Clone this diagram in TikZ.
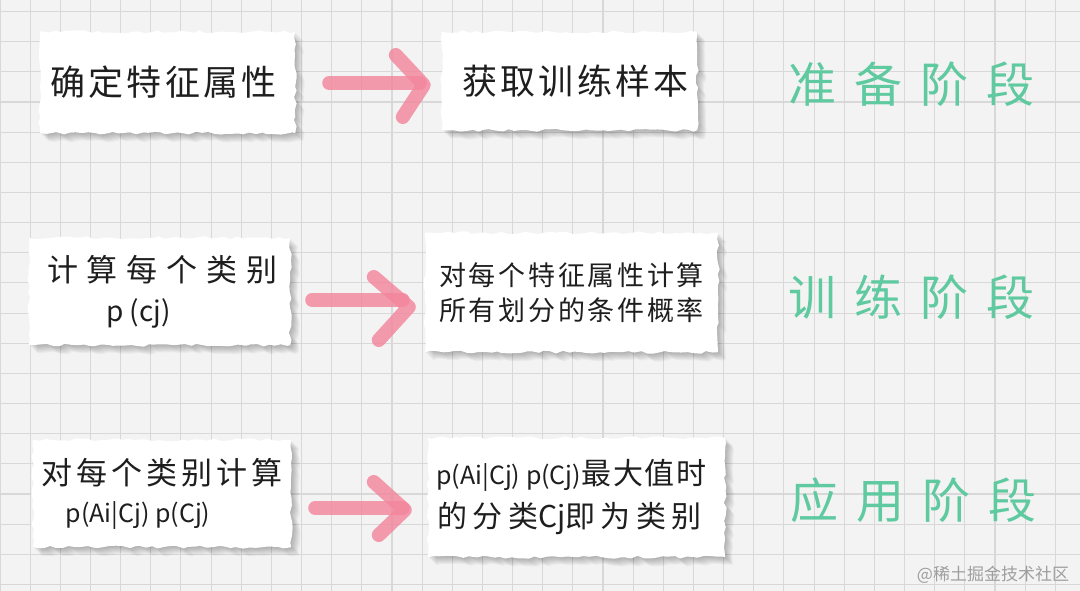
\documentclass[tikz,border=0pt]{standalone}
\usepackage{fontspec}
\setmainfont{Noto Sans CJK SC}
\usetikzlibrary{decorations.pathmorphing}
\definecolor{bgc}{RGB}{243,243,243}
\definecolor{gridc}{RGB}{216,216,216}
\definecolor{pinkc}{RGB}{244,134,157}
\definecolor{greenc}{RGB}{95,201,160}
\definecolor{markc}{RGB}{158,158,158}
\definecolor{inkc}{RGB}{30,30,30}
\pgfdeclarelayer{gridlayer}
\pgfdeclarelayer{paperlayer}
\pgfsetlayers{gridlayer,paperlayer,main}
\newcommand\tornpaper[2]{%
  \begin{pgfonlayer}{paperlayer}
  \foreach \k in {1,...,8}{%
    \pgfmathsetseed{#2}%
    \fill[black,opacity=0.035,torn]
      ([shift={(\k*1.0,\k*1.0)}]#1.north west) rectangle ([shift={(\k*1.0,\k*1.0)}]#1.south east);
  }
  \pgfmathsetseed{#2}%
  \fill[white,torn] (#1.north west) rectangle (#1.south east);
  \end{pgfonlayer}%
}
\tikzset{
  torn/.style={decorate,decoration={random steps,segment length=6pt,amplitude=1.5pt}},
  paperbox/.style={inner sep=0pt, align=center, text=inkc},
  stagelabel/.style={inner sep=0pt, text=greenc, font=\fontsize{48}{50}\selectfont\addfontfeature{LetterSpace=37.5}},
  pinkarrow/.style={draw=pinkc, line width=14, line cap=round, line join=round, opacity=0.82},
}
\begin{document}
\begin{tikzpicture}[x=1pt,y=-1pt]
\useasboundingbox (0,0) rectangle (1080,591);
\begin{pgfonlayer}{gridlayer}
  \fill[bgc] (0,0) rectangle (1080,591);
  \foreach \i in {0,...,35} \draw[gridc,line width=1.1] (\i*30.15,0) -- (\i*30.15,591);
  \foreach \j in {0,...,19} \draw[gridc,line width=1.1] (0,11.55+\j*30.15) -- (1080,11.55+\j*30.15);
\end{pgfonlayer}

% row 1
\node[paperbox, minimum width=255, minimum height=101,
      font=\fontsize{35}{40}\selectfont\addfontfeature{LetterSpace=9}] (A) at (167.5,82.5) {确定特征属性\hspace*{8pt}};
\node[paperbox, minimum width=255, minimum height=98,
      font=\fontsize{35}{40}\selectfont\addfontfeature{LetterSpace=9}] (B) at (569.5,81) {\hspace*{12pt}获取训练样本};
\node[stagelabel] (S1) at (911,84) {准备阶段};

% row 2
\node[paperbox, minimum width=261, minimum height=107,
      font=\fontsize{31}{40}\selectfont] (C) at (159.5,291.5)
  {\hspace*{6pt}{\addfontfeature{LetterSpace=29}计算每个类别}\\{\fontsize{28}{40}\selectfont p (cj)}\hspace*{42pt}};
\node[paperbox, minimum width=293, minimum height=119,
      font=\fontsize{27}{35}\selectfont\addfontfeature{LetterSpace=10}] (D) at (571.5,292.5)
  {对每个特征属性计算\\所有划分的条件概率};
\node[stagelabel] (S2) at (911,297) {训练阶段};

% row 3
\node[paperbox, minimum width=258, minimum height=107,
      font=\fontsize{31}{38}\selectfont] (E) at (162,493.5)
  {{\addfontfeature{LetterSpace=13}对每个类别计算}\\{\fontsize{25}{38}\selectfont p(Ai|Cj) p(Cj)}\hspace*{48pt}};
\node[paperbox, minimum width=297, minimum height=119,
      font=\fontsize{30}{43}\selectfont] (F) at (576.5,497.5)
  {{\fontsize{25}{43}\selectfont p(Ai|Cj) p(Cj)}{\addfontfeature{LetterSpace=6}最大值时}\hspace*{10pt}\\{\addfontfeature{LetterSpace=18}的分类}Cj{\addfontfeature{LetterSpace=18}即为类别}\hspace*{14pt}};
\node[stagelabel] (S3) at (913,500) {应用阶段};

\node[inner sep=0pt, text=markc, font=\fontsize{17}{20}\selectfont] (W) at (993,575) {@稀土掘金技术社区};

% papers
\tornpaper{A}{11}
\tornpaper{B}{23}
\tornpaper{C}{37}
\tornpaper{D}{41}
\tornpaper{E}{53}
\tornpaper{F}{67}

% arrows
\coordinate (t1) at ([shift={(-18,4)}]B.west);
\draw[pinkarrow] ([shift={(34,0.5)}]A.east) -- ([shift={(-4,-2)}]t1);
\draw[pinkarrow] ([shift={(-28,-30)}]t1) -- (t1) -- ([shift={(-21,32)}]t1);

\coordinate (t2) at ([shift={(-16,14.5)}]D.west);
\draw[pinkarrow] ([shift={(22,8.5)}]C.east) -- ([shift={(-6,-7)}]t2);
\draw[pinkarrow] ([shift={(-35,-30)}]t2) -- (t2) -- ([shift={(-30,33)}]t2);

\coordinate (t3) at ([shift={(-23,12.5)}]F.west);
\draw[pinkarrow] ([shift={(24,14.5)}]E.east) -- ([shift={(-2,-2)}]t3);
\draw[pinkarrow] ([shift={(-31,-28)}]t3) -- (t3) -- ([shift={(-26,25)}]t3);
\end{tikzpicture}
\end{document}
